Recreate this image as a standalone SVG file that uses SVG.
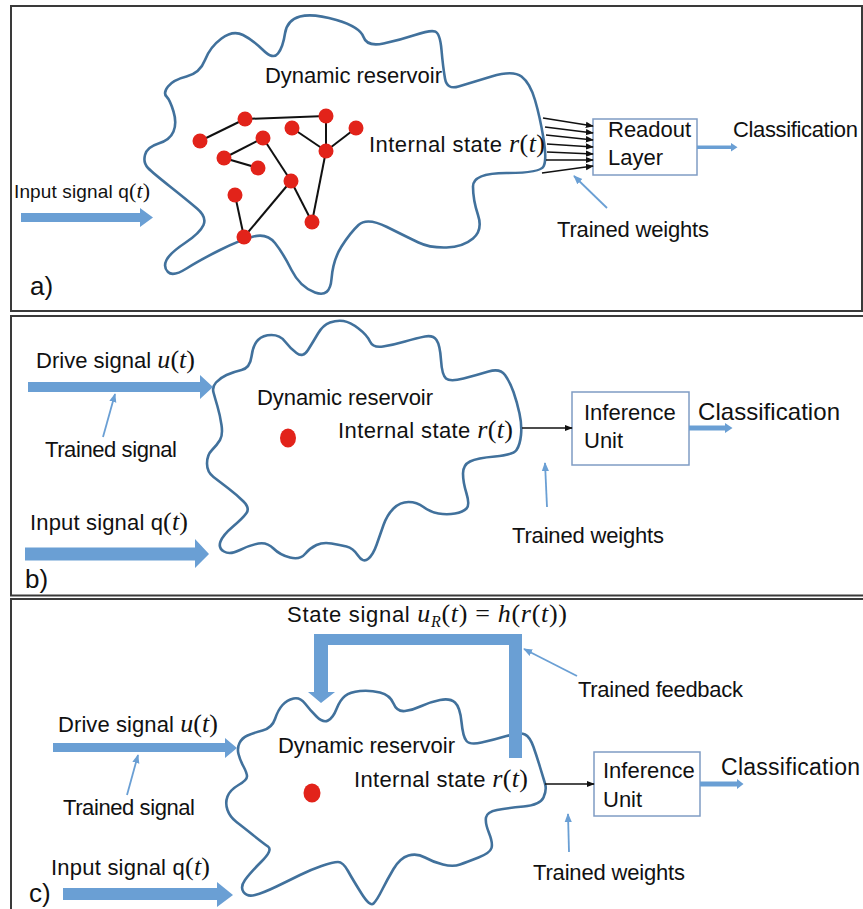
<svg xmlns="http://www.w3.org/2000/svg" width="863" height="909" viewBox="0 0 863 909">
<style>
.frame{fill:none;stroke:#3a3a3a;stroke-width:2}
.blob{fill:none;stroke:#41719c;stroke-width:2.6;stroke-linejoin:round}
.big{fill:#6a9fd4;stroke:none}
.t{font-family:"Liberation Sans",Arial,sans-serif;font-size:22px;fill:#111}
.m{font-family:"Liberation Serif","Times New Roman",serif;font-style:italic;font-size:26px}
.mu{font-family:"Liberation Serif","Times New Roman",serif;font-size:26px}
.lbl{font-family:"Liberation Sans",Arial,sans-serif;font-size:26px;fill:#111}
.box{fill:#fff;stroke:#7f9cc4;stroke-width:1.5}
.dot{fill:#e2231a}
.edge{stroke:#111;stroke-width:2}
.blk{stroke:#111;stroke-width:1.6;fill:none;marker-end:url(#ah)}
.ptr{stroke:#6a9fd4;stroke-width:1.8;fill:none;marker-end:url(#ap)}
</style>
<defs>
<marker id="ah" viewBox="0 0 10 10" refX="9" refY="5" markerWidth="5" markerHeight="5" orient="auto" markerUnits="strokeWidth"><path d="M0,1 L10,5 L0,9 z" fill="#111"/></marker>
<marker id="ap" viewBox="0 0 10 10" refX="9" refY="5" markerWidth="5" markerHeight="5" orient="auto" markerUnits="strokeWidth"><path d="M0,1 L10,5 L0,9 z" fill="#6a9fd4"/></marker>
</defs>
<rect width="863" height="909" fill="#fff"/>

<g id="frames">
<rect class="frame" x="11" y="6" width="851" height="305"/>
<path class="frame" d="M863,316 H11 V595.5 H863"/>
<path class="frame" d="M863,599 H11 V910"/>
</g>

<!-- Panel a -->
<g id="a-reservoir">
<path class="blob" d="M168,86.5 Q173,80 186.5,76.5 Q200,73 205,60 Q210,47 221.5,38.5 Q233,30 243,35 Q253,40 263,50 Q273,60 278,53.5 Q283,47 285,33.5 Q287,20 300,16.5 Q313,13 336.5,20 Q360,27 363.5,37 Q367,47 383.5,43.5 Q400,40 415,35 Q430,30 435,31.5 Q440,33 441.5,50 Q443,67 445,78.5 Q447,90 458.5,86.5 Q470,83 491.5,76.5 Q513,70 521.5,76.5 Q530,83 535,100 Q540,117 543.5,138.5 Q547,160 543.5,166.5 Q540,173 506.5,173 Q473,173 473,186.5 Q473,200 478,215 Q483,230 473,238.5 Q463,247 446.5,247.5 Q430,248 418.5,242.5 Q407,237 387,227 Q367,217 358.5,225 Q350,233 341.5,246.5 Q333,260 331.5,279 Q330,298 315,292.5 Q300,287 291.5,270 Q283,253 275,243 Q267,233 253.5,236.5 Q240,240 220,250 Q200,260 186.5,268.5 Q173,277 168,272 Q163,267 166.5,260 Q170,253 185,243 Q200,233 203.5,225 Q207,217 197,208.5 Q187,200 170,186.5 Q153,173 148,168 Q143,163 145,155 Q147,147 158.5,143.5 Q170,140 173.5,131.5 Q177,123 173.5,111.5 Q170,100 166.5,96.5 Q163,93 168,86.5 Z"/>
<g id="a-network">
<line class="edge" x1="200" y1="141" x2="245" y2="119"/>
<line class="edge" x1="245" y1="119" x2="326" y2="116"/>
<line class="edge" x1="326" y1="116" x2="326" y2="151"/>
<line class="edge" x1="292" y1="128" x2="326" y2="151"/>
<line class="edge" x1="356" y1="128" x2="326" y2="151"/>
<line class="edge" x1="224" y1="158" x2="263" y2="138"/>
<line class="edge" x1="224" y1="158" x2="258" y2="168"/>
<line class="edge" x1="263" y1="138" x2="291" y2="181"/>
<line class="edge" x1="291" y1="181" x2="244" y2="237"/>
<line class="edge" x1="235" y1="195" x2="244" y2="237"/>
<line class="edge" x1="291" y1="181" x2="312" y2="222"/>
<line class="edge" x1="326" y1="151" x2="312" y2="222"/>
<circle class="dot" cx="245" cy="119" r="7.5"/>
<circle class="dot" cx="326" cy="116" r="7.5"/>
<circle class="dot" cx="292" cy="128" r="7.5"/>
<circle class="dot" cx="356" cy="128" r="7.5"/>
<circle class="dot" cx="200" cy="141" r="7.5"/>
<circle class="dot" cx="263" cy="138" r="7.5"/>
<circle class="dot" cx="224" cy="158" r="7.5"/>
<circle class="dot" cx="326" cy="151" r="7.5"/>
<circle class="dot" cx="258" cy="168" r="7.5"/>
<circle class="dot" cx="291" cy="181" r="7.5"/>
<circle class="dot" cx="235" cy="195" r="7.5"/>
<circle class="dot" cx="312" cy="222" r="7.5"/>
<circle class="dot" cx="244" cy="237" r="7.5"/>
</g>
<text class="t" x="265" y="83" textLength="177">Dynamic reservoir</text>
<text class="t" x="369" y="152" textLength="176">Internal state <tspan class="m">r</tspan><tspan class="mu">(</tspan><tspan class="m">t</tspan><tspan class="mu">)</tspan></text>
</g>
<g id="a-readout">
<rect class="box" x="593" y="119" width="104" height="56"/>
<text class="t" x="608" y="137">Readout</text>
<text class="t" x="608" y="165">Layer</text>
</g>
<g id="a-labels">
<text class="t" x="733" y="137" textLength="125">Classification</text>
<text class="t" x="557" y="237" textLength="152">Trained weights</text>
<text class="t" x="14" y="198" style="font-size:19px" textLength="136">Input signal q<tspan class="mu" style="font-size:22px">(</tspan><tspan class="m" style="font-size:22px">t</tspan><tspan class="mu" style="font-size:22px">)</tspan></text>
<text class="lbl" x="30" y="295">a)</text>
</g>
<g id="a-connectors">
<polygon class="big" points="21,213 140,213 140,208 153,217.5 140,227 140,222 21,222"/>
<polygon class="big" points="697,145.5 731,145.5 731,143 737.5,147.3 731,151.5 731,149 697,149"/>
<line class="blk" x1="543" y1="118" x2="593" y2="126"/>
<line class="blk" x1="545" y1="127" x2="593" y2="133"/>
<line class="blk" x1="546" y1="135" x2="593" y2="140"/>
<line class="blk" x1="547" y1="144" x2="593" y2="147"/>
<line class="blk" x1="547" y1="152" x2="593" y2="154"/>
<line class="blk" x1="546" y1="160" x2="593" y2="160"/>
<line class="blk" x1="542" y1="173" x2="593" y2="166"/>
<line class="ptr" x1="607" y1="208" x2="574" y2="176"/>
</g>

<!-- Panel b -->
<g id="b-reservoir">
<path class="blob" d="M213.5,392.5 Q212,387 216,382.5 Q220,378 226.5,375 Q233,372 241.5,370 Q250,368 251.5,356.5 Q253,345 258,340 Q263,335 271.5,335 Q280,335 285,341.5 Q290,348 296.5,353 Q303,358 308,350 Q313,342 318,333.5 Q323,325 330,322.5 Q337,320 343.5,321 Q350,322 358.5,328.5 Q367,335 370,341.5 Q373,348 383,346.5 Q393,345 405,341.5 Q417,338 425,336.5 Q433,335 436.5,340 Q440,345 441,360 Q442,375 446,378.5 Q450,382 463.5,378.5 Q477,375 488.5,371.5 Q500,368 505,375 Q510,382 513.5,392 Q517,402 519.5,413.5 Q522,425 521,435 Q520,445 516.5,450 Q513,455 495,456.5 Q477,458 470,461.5 Q463,465 463,473.5 Q463,482 466.5,493.5 Q470,505 466.5,508.5 Q463,512 455,513.5 Q447,515 438.5,513.5 Q430,512 423.5,507 Q417,502 408.5,502 Q400,502 393.5,508.5 Q387,515 383.5,525 Q380,535 376.5,545 Q373,555 368,559 Q363,563 358,555.5 Q353,548 346.5,546.5 Q340,545 331.5,543.5 Q323,542 316.5,545 Q310,548 305,554 Q300,560 290,557.5 Q280,555 273.5,548.5 Q267,542 258.5,543.5 Q250,545 240,550 Q230,555 224,551.5 Q218,548 220.5,541.5 Q223,535 233,526.5 Q243,518 246.5,513 Q250,508 243.5,501.5 Q237,495 228.5,488.5 Q220,482 213.5,477 Q207,472 207,463.5 Q207,455 212,450 Q217,445 220,440 Q223,435 221.5,425 Q220,415 217.5,406.5 Q215,398 213.5,392.5 Z"/>
<ellipse class="dot" cx="288" cy="438" rx="8" ry="9.5"/>
<text class="t" x="257" y="405" textLength="176">Dynamic reservoir</text>
<text class="t" x="338" y="438" textLength="175">Internal state <tspan class="m">r</tspan><tspan class="mu">(</tspan><tspan class="m">t</tspan><tspan class="mu">)</tspan></text>
</g>
<g id="b-inference">
<rect class="box" x="572" y="392" width="117" height="73"/>
<text class="t" x="584" y="420">Inference</text>
<text class="t" x="584" y="448">Unit</text>
</g>
<g id="b-labels">
<text class="t" x="698" y="420" style="font-size:24px" textLength="142">Classification</text>
<text class="t" x="512" y="543" textLength="152">Trained weights</text>
<text class="t" x="36" y="368" textLength="159">Drive signal <tspan class="m">u</tspan><tspan class="mu">(</tspan><tspan class="m">t</tspan><tspan class="mu">)</tspan></text>
<text class="t" x="45" y="457" textLength="132">Trained signal</text>
<text class="t" x="30" y="530" textLength="158">Input signal q<tspan class="mu">(</tspan><tspan class="m">t</tspan><tspan class="mu">)</tspan></text>
<text class="lbl" x="25" y="588">b)</text>
</g>
<g id="b-connectors">
<polygon class="big" points="28,382 200,382 200,375 213,387 200,399 200,392 28,392"/>
<polygon class="big" points="25,547.5 195,547.5 195,539 209,554 195,568 195,560.5 25,560.5"/>
<polygon class="big" points="689,425.5 725,425.5 725,423 732.5,428 725,433 725,430.5 689,430.5"/>
<line class="blk" x1="522" y1="428" x2="572" y2="428"/>
<line class="ptr" x1="103" y1="437" x2="115" y2="394"/>
<line class="ptr" x1="547" y1="507" x2="545" y2="463"/>
</g>

<!-- Panel c -->
<g id="c-reservoir">
<path class="blob" d="M238.5,754 Q237,748 239.5,743 Q242,738 247.5,735.5 Q253,733 262.5,730.5 Q272,728 275,719 Q278,710 282.5,705 Q287,700 293.5,698.5 Q300,697 305,703.5 Q310,710 316.5,716.5 Q323,723 328,720.5 Q333,718 336.5,709 Q340,700 345,696 Q350,692 360,691 Q370,690 380,692.5 Q390,695 393.5,703.5 Q397,712 405,711 Q413,710 421.5,706 Q430,702 440,700 Q450,698 455,702.5 Q460,707 461.5,722 Q463,737 466.5,741 Q470,745 481.5,742.5 Q493,740 506.5,736 Q520,732 525,734.5 Q530,737 533.5,747 Q537,757 540,767 Q543,777 545,783.5 Q547,790 543.5,797.5 Q540,805 523.5,806.5 Q507,808 497,810 Q487,812 486,817.5 Q485,823 489,833 Q493,843 491.5,848 Q490,853 478.5,857.5 Q467,862 460,864.5 Q453,867 443,864.5 Q433,862 425,857.5 Q417,853 408.5,855.5 Q400,858 393.5,869 Q387,880 382,890 Q377,900 373.5,903.5 Q370,907 361.5,893.5 Q353,880 348,871 Q343,862 338,862 Q333,862 321.5,866 Q310,870 300,875 Q290,880 276.5,886.5 Q263,893 255,895 Q247,897 243.5,892 Q240,887 245,880 Q250,873 261.5,861.5 Q273,850 268,846.5 Q263,843 253,835 Q243,827 236.5,822 Q230,817 227.5,810 Q225,803 227.5,796.5 Q230,790 238.5,785 Q247,780 247,776.5 Q247,773 243.5,766.5 Q240,760 238.5,754 Z"/>
<ellipse class="dot" cx="312" cy="793" rx="8.5" ry="9.5"/>
<text class="t" x="278" y="753" textLength="177">Dynamic reservoir</text>
<text class="t" x="354" y="787" textLength="174">Internal state <tspan class="m">r</tspan><tspan class="mu">(</tspan><tspan class="m">t</tspan><tspan class="mu">)</tspan></text>
</g>
<g id="c-inference">
<rect class="box" x="594" y="752" width="106" height="64"/>
<text class="t" x="603" y="778">Inference</text>
<text class="t" x="603" y="807">Unit</text>
</g>
<g id="c-labels">
<text class="t" x="287" y="622" textLength="280">State signal <tspan class="m">u</tspan><tspan class="m" style="font-size:16px" dy="5">R</tspan><tspan class="mu" dy="-5">(</tspan><tspan class="m">t</tspan><tspan class="mu">) = </tspan><tspan class="m">h</tspan><tspan class="mu">(</tspan><tspan class="m">r</tspan><tspan class="mu">(</tspan><tspan class="m">t</tspan><tspan class="mu">))</tspan></text>
<text class="t" x="578" y="697" textLength="165">Trained feedback</text>
<text class="t" x="721" y="775" style="font-size:23px" textLength="139">Classification</text>
<text class="t" x="533" y="880" textLength="152">Trained weights</text>
<text class="t" x="58" y="732" textLength="160">Drive signal <tspan class="m">u</tspan><tspan class="mu">(</tspan><tspan class="m">t</tspan><tspan class="mu">)</tspan></text>
<text class="t" x="63" y="815" textLength="132">Trained signal</text>
<text class="t" x="51" y="875" textLength="159">Input signal q<tspan class="mu">(</tspan><tspan class="m">t</tspan><tspan class="mu">)</tspan></text>
<text class="lbl" x="29" y="902">c)</text>
</g>
<g id="c-connectors">
<polygon class="big" points="53,743 225,743 225,738 237,748 225,758 225,752 53,752"/>
<polygon class="big" points="63,888 217,888 217,882 233,895 217,907 217,900 63,900"/>
<polygon class="big" points="522,758 522,634 314,634 314,692 308,692 321,703 335,692 328,692 328,645 509,645 509,758"/>
<polygon class="big" points="700,781.5 737,781.5 737,779 743.5,784 737,789 737,786.5 700,786.5"/>
<line class="blk" x1="545" y1="784" x2="594" y2="784"/>
<line class="ptr" x1="577" y1="676" x2="524" y2="649"/>
<line class="ptr" x1="127" y1="795" x2="138" y2="755"/>
<line class="ptr" x1="569" y1="852" x2="568" y2="814"/>
</g>
</svg>
